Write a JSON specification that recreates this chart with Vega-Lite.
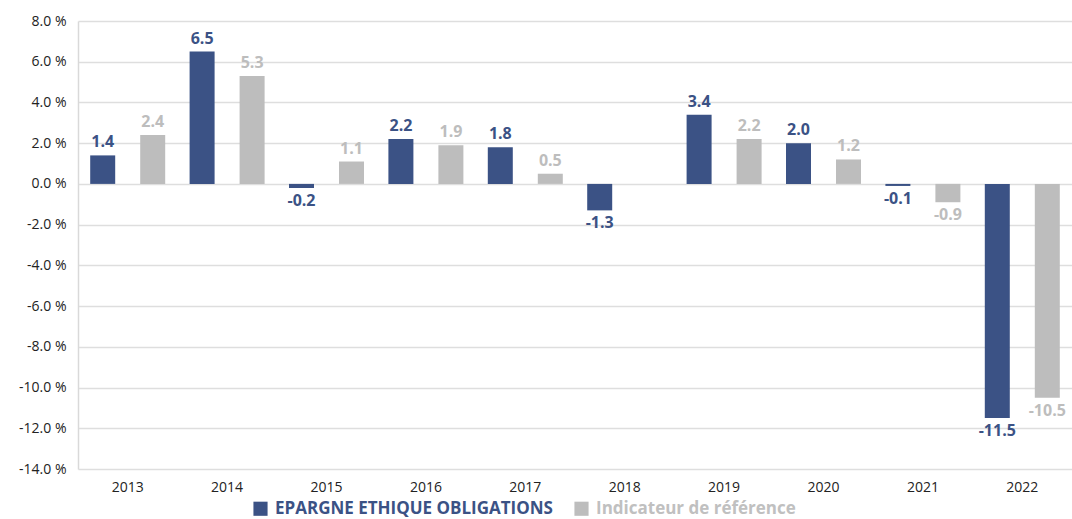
{
  "$schema": "https://vega.github.io/schema/vega-lite/v6.json",
  "autosize": "none",
  "width": 994,
  "height": 448,
  "padding": {"left": 78, "top": 21, "right": 0, "bottom": 50},
  "background": "white",
  "config": {"view": {"stroke": null}, "font": "Open Sans",
    "locale": {"number": {"decimal": ".", "thousands": ",", "grouping": [3], "currency": ["", ""], "minus": "-"}}},
  "data": {"values": [
    {"year": "2013", "series": "EPARGNE ETHIQUE OBLIGATIONS", "value": 1.4},
    {"year": "2013", "series": "Indicateur de référence", "value": 2.4},
    {"year": "2014", "series": "EPARGNE ETHIQUE OBLIGATIONS", "value": 6.5},
    {"year": "2014", "series": "Indicateur de référence", "value": 5.3},
    {"year": "2015", "series": "EPARGNE ETHIQUE OBLIGATIONS", "value": -0.2},
    {"year": "2015", "series": "Indicateur de référence", "value": 1.1},
    {"year": "2016", "series": "EPARGNE ETHIQUE OBLIGATIONS", "value": 2.2},
    {"year": "2016", "series": "Indicateur de référence", "value": 1.9},
    {"year": "2017", "series": "EPARGNE ETHIQUE OBLIGATIONS", "value": 1.8},
    {"year": "2017", "series": "Indicateur de référence", "value": 0.5},
    {"year": "2018", "series": "EPARGNE ETHIQUE OBLIGATIONS", "value": -1.3},
    {"year": "2019", "series": "EPARGNE ETHIQUE OBLIGATIONS", "value": 3.4},
    {"year": "2019", "series": "Indicateur de référence", "value": 2.2},
    {"year": "2020", "series": "EPARGNE ETHIQUE OBLIGATIONS", "value": 2.0},
    {"year": "2020", "series": "Indicateur de référence", "value": 1.2},
    {"year": "2021", "series": "EPARGNE ETHIQUE OBLIGATIONS", "value": -0.1},
    {"year": "2021", "series": "Indicateur de référence", "value": -0.9},
    {"year": "2022", "series": "EPARGNE ETHIQUE OBLIGATIONS", "value": -11.5},
    {"year": "2022", "series": "Indicateur de référence", "value": -10.5}
  ]},
  "encoding": {
    "x": {"field": "year", "type": "nominal", "scale": {"paddingInner": 0, "paddingOuter": 0},
      "axis": {"title": null, "labelAngle": 0, "domain": false, "ticks": false, "labelPadding": 11, "labelFont": "Open Sans", "labelFontSize": 14, "labelColor": "#222222", "grid": false}},
    "xOffset": {"field": "series", "type": "nominal", "scale": {"domain": ["EPARGNE ETHIQUE OBLIGATIONS", "Indicateur de référence"], "paddingInner": 0.5, "paddingOuter": 0.244}},
    "y": {"field": "value", "type": "quantitative", "scale": {"domain": [-14, 8], "nice": false},
      "axis": {"title": null, "values": [-14, -12, -10, -8, -6, -4, -2, 0, 2, 4, 6, 8], "labelExpr": "format(datum.value, '.1f') + ' %'", "ticks": false, "domain": true, "domainColor": "#d9d9d9", "domainWidth": 1.5, "gridColor": "#dedede", "gridWidth": 1.5, "labelPadding": 12, "labelFont": "Open Sans", "labelFontSize": 14, "labelColor": "#222222"}},
    "color": {"field": "series", "type": "nominal", "scale": {"domain": ["EPARGNE ETHIQUE OBLIGATIONS", "Indicateur de référence"], "range": ["#3b5285", "#bdbdbd"]}}
  },
  "layer": [
    {"mark": {"type": "bar"},
     "encoding": {"color": {"field": "series", "type": "nominal", "scale": {"domain": ["EPARGNE ETHIQUE OBLIGATIONS", "Indicateur de référence"], "range": ["#3b5285", "#bdbdbd"]},
       "legend": {"title": null, "orient": "none", "legendX": 174, "legendY": 479, "direction": "horizontal", "symbolType": "square", "symbolSize": 200, "symbolStrokeWidth": 0, "labelFont": "Open Sans", "labelFontSize": 17, "labelFontWeight": "bold", "labelLimit": 0, "columnPadding": 20, "labelOffset": 6,
         "encode": {"labels": {"update": {"fill": {"signal": "datum.value === 'EPARGNE ETHIQUE OBLIGATIONS' ? '#3b5285' : '#c0c0c0'"}}}}}}}},
    {"transform": [{"filter": "datum.value >= 0"}],
     "mark": {"type": "text", "baseline": "bottom", "dy": -5, "font": "Open Sans", "fontSize": 16, "fontWeight": "bold"},
     "encoding": {"text": {"field": "value", "type": "quantitative", "format": ".1f"}}},
    {"transform": [{"filter": "datum.value < 0"}],
     "mark": {"type": "text", "baseline": "top", "dy": 5, "font": "Open Sans", "fontSize": 16, "fontWeight": "bold"},
     "encoding": {"text": {"field": "value", "type": "quantitative", "format": ".1f"}}}
  ]
}
